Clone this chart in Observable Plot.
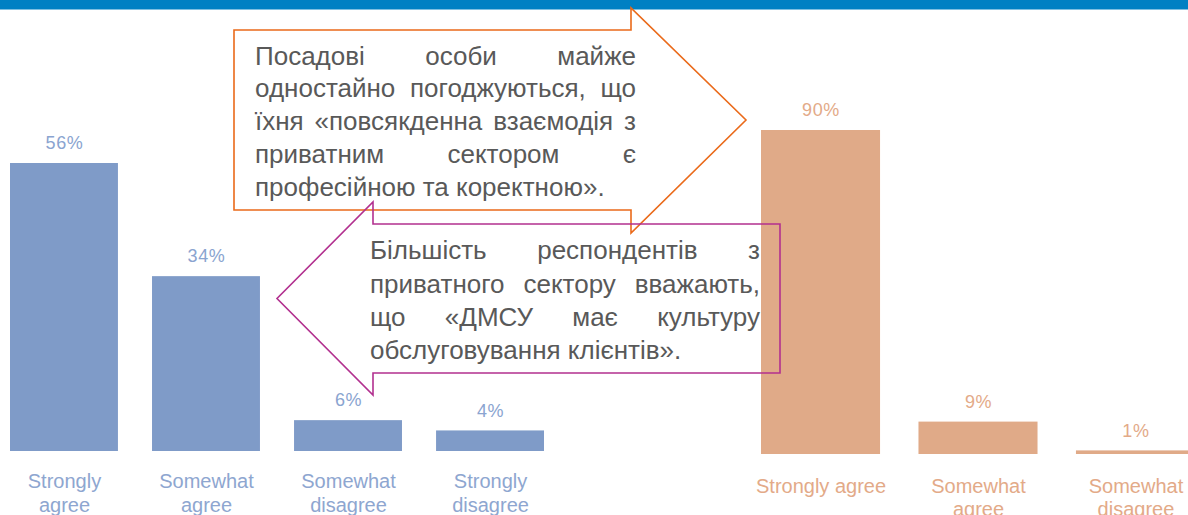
<!DOCTYPE html>
<html>
<head>
<meta charset="utf-8">
<script src="https://cdn.jsdelivr.net/npm/d3@7"></script>
<script src="https://cdn.jsdelivr.net/npm/@observablehq/plot@0.6"></script>
<style>
  html, body { margin: 0; padding: 0; background: #fff; overflow: hidden; }
  #wrap { position: relative; width: 1188px; height: 515px; overflow: hidden; font-family: "Liberation Sans", Arial, sans-serif; }
  #wrap > svg, #wrap > figure { position: absolute; left: 0; top: 0; margin: 0; }
  .callout { position: absolute; color: #595959; font-size: 26px; font-family: "Liberation Sans", Arial, sans-serif; }
  .callout .ln { white-space: nowrap; text-align: justify; text-align-last: justify; }
  .callout .ln.last { text-align: left; text-align-last: left; white-space: nowrap; }
  .vlabel text { letter-spacing: 0.6px; }
</style>
</head>
<body>
<div id="wrap"></div>
<script>
// ---- data ----
const leftCategories = ["Strongly agree", "Somewhat agree", "Somewhat disagree", "Strongly disagree"];
const leftTickLabels = ["Strongly\nagree", "Somewhat\nagree", "Somewhat\ndisagree", "Strongly\ndisagree"];
const leftValues = [56, 34, 6, 4];

const rightCategories = ["Strongly agree", "Somewhat agree", "Somewhat disagree"];
const rightTickLabels = ["Strongly agree", "Somewhat\nagree", "Somewhat\ndisagree"];
const rightValues = [90, 9, 1];

const callout1Lines = [
  "Посадові особи майже",
  "одностайно погоджуються, що",
  "їхня «повсякденна взаємодія з",
  "приватним сектором є",
  "професійною та коректною»."
];
const callout2Lines = [
  "Більшість респондентів з",
  "приватного сектору вважають,",
  "що «ДМСУ має культуру",
  "обслуговування клієнтів»."
];

// ---- build ----
const wrap = document.getElementById("wrap");
const font = "Liberation Sans, Arial, sans-serif";

const leftData = leftCategories.map((c, i) => ({cat: c, label: leftTickLabels[i], value: leftValues[i]}));
const rightData = rightCategories.map((c, i) => ({cat: c, label: rightTickLabels[i], value: rightValues[i]}));

const leftPlot = Plot.plot({
  width: 1188, height: 515, margin: 0,
  style: {background: "transparent", fontFamily: font, overflow: "visible"},
  x: {domain: leftCategories, range: [10, 544], paddingInner: 0.24, paddingOuter: 0, round: false, axis: null},
  y: {domain: [0, 56], range: [451, 163], axis: null},
  marks: [
    Plot.barY(leftData, {x: "cat", y: "value", fill: "#7f9bc8"}),
    Plot.text(leftData, {x: "cat", y: "value", text: d => d.value + "%", dy: -20, fill: "#8aa4d0", fontSize: 18, className: "vlabel"}),
    Plot.text(leftData, {x: "cat", y: 0, text: "label", lineAnchor: "top", dy: 19, fontSize: 20, lineHeight: 1.22, fill: "#8ea6d0"})
  ]
});

const rightPlot = Plot.plot({
  width: 1188, height: 515, margin: 0,
  style: {background: "transparent", fontFamily: font, overflow: "visible"},
  x: {domain: rightCategories, range: [761, 1195], paddingInner: 0.244, paddingOuter: 0, round: false, axis: null},
  y: {domain: [0, 90], range: [454, 130], axis: null},
  marks: [
    Plot.barY(rightData, {x: "cat", y: "value", fill: "#e0aa88"}),
    Plot.text(rightData, {x: "cat", y: "value", text: d => d.value + "%", dy: -20, fill: "#e3aa88", fontSize: 18, className: "vlabel"}),
    Plot.text(rightData, {x: "cat", y: 0, text: "label", lineAnchor: "top", dy: 22, fontSize: 20, lineHeight: 1.15, fill: "#e3aa88"})
  ]
});

wrap.appendChild(leftPlot);
wrap.appendChild(rightPlot);

// overlay: top band + callout arrows
const ov = d3.select(wrap).append("svg")
  .attr("width", 1188).attr("height", 515)
  .style("position", "absolute").style("left", 0).style("top", 0);

ov.append("rect").attr("x", 0).attr("y", 0).attr("width", 1188).attr("height", 9.5).attr("fill", "#0080c3");

const arrowRight = [[234,30],[631,30],[631,8],[746,120],[631,233],[631,210],[234,210]];
const arrowLeft = [[780,224],[373,224],[373,202],[277,298.5],[373,395],[373,373],[780,373]];

ov.append("polygon").attr("points", arrowRight.map(p => p.join(",")).join(" "))
  .attr("fill", "none").attr("stroke", "#ea6a1a").attr("stroke-width", 1.6).attr("stroke-linejoin", "miter");
ov.append("polygon").attr("points", arrowLeft.map(p => p.join(",")).join(" "))
  .attr("fill", "none").attr("stroke", "#b2308f").attr("stroke-width", 1.6).attr("stroke-linejoin", "miter");

function addCallout(lines, left, top, width, lh) {
  const d = document.createElement("div");
  d.className = "callout";
  d.style.left = left + "px";
  d.style.top = top + "px";
  d.style.width = width + "px";
  d.style.lineHeight = lh + "px";
  lines.forEach((t, i) => {
    const l = document.createElement("div");
    l.className = "ln" + (i === lines.length - 1 ? " last" : "");
    l.textContent = t;
    d.appendChild(l);
  });
  wrap.appendChild(d);
}
addCallout(callout1Lines, 255, 39.6, 381, 32.8);
addCallout(callout2Lines, 370, 234.3, 390, 33.3);
</script>
</body>
</html>
